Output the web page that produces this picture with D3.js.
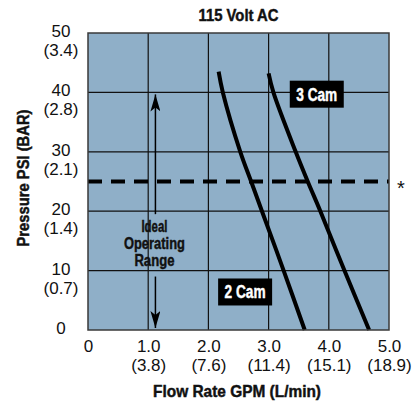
<!DOCTYPE html>
<html>
<head>
<meta charset="utf-8">
<script src="https://cdn.jsdelivr.net/npm/d3@7"></script>
<style>
  body { margin: 0; background: #fff; }
  svg { display: block; }
  .narrow { font-family: "Liberation Sans", Arial, sans-serif; font-weight: bold; stroke-width: 0.45px; }
  .tick text { font-family: "Liberation Sans", Arial, sans-serif; font-size: 17px; fill: #111; }
</style>
</head>
<body>
<div id="chart"></div>
<script>
// flow rate ticks (GPM) and metric equivalents (L/min)
const flowTicks = [0, 1, 2, 3, 4, 5];
const flowLabels = ["0", "1.0", "2.0", "3.0", "4.0", "5.0"];
const flowMetric = ["", "(3.8)", "(7.6)", "(11.4)", "(15.1)", "(18.9)"];

// pressure ticks (PSI) and metric equivalents (BAR)
const psiTicks = [0, 10, 20, 30, 40, 50];
const psiLabels = ["0", "10", "20", "30", "40", "50"];
const psiMetric = ["", "(0.7)", "(1.4)", "(2.1)", "(2.8)", "(3.4)"];

// pump curves: pressure (PSI) vs flow (GPM)
const twoCamPsi = [0, 10, 20, 25, 30, 40, 43.5];
const twoCamGpm = [3.60, 3.25, 2.89, 2.71, 2.53, 2.24, 2.17];
const threeCamPsi = [0, 10, 20, 25, 30, 40, 43.2];
const threeCamGpm = [4.67, 4.26, 3.86, 3.65, 3.45, 3.08, 3.00];

const cutoffPsi = 25;          // dashed line
const idealRange = [0, 40];    // arrow range
const idealFlow = 1.12;
const idealGapPsi = [9, 19.5];

const W = 414, H = 402;
const margin = {top: 33, right: 25, bottom: 72, left: 88};

const x = d3.scaleLinear().domain([0, 5]).range([margin.left, W - margin.right]);
const y = d3.scaleLinear().domain([0, 50]).range([H - margin.bottom, margin.top]);

const svg = d3.select("#chart").append("svg")
    .attr("width", W)
    .attr("height", H);

// condensed look: squeeze bold text to the width it has in the picture
const fitWidth = (sel, w) => sel.attr("textLength", w).attr("lengthAdjust", "spacingAndGlyphs");

const defs = svg.append("defs");
["up", "down"].forEach(id => {
    defs.append("marker")
        .attr("id", "arrow-" + id)
        .attr("viewBox", "0 0 10 18")
        .attr("refX", 5)
        .attr("refY", 0)
        .attr("markerWidth", 10)
        .attr("markerHeight", 18)
        .attr("markerUnits", "userSpaceOnUse")
        .attr("orient", id === "up" ? 0 : 180)
        .append("path")
        .attr("d", "M5,0 L10,17 L5,13 L0,17 Z")
        .attr("fill", "#000");
});

// plot background
svg.append("rect")
    .attr("x", x(0))
    .attr("y", y(50))
    .attr("width", x(5) - x(0))
    .attr("height", y(0) - y(50))
    .attr("fill", "#8fafc8");

// grid
svg.append("g")
    .selectAll("line")
    .data(flowTicks.slice(1, -1))
    .join("line")
    .attr("x1", d => x(d)).attr("x2", d => x(d))
    .attr("y1", y(0)).attr("y2", y(50))
    .attr("stroke", "#111")
    .attr("stroke-width", 1.2);

svg.append("g")
    .selectAll("line")
    .data(psiTicks.slice(1, -1))
    .join("line")
    .attr("x1", x(0)).attr("x2", x(5))
    .attr("y1", d => y(d)).attr("y2", d => y(d))
    .attr("stroke", "#111")
    .attr("stroke-width", 1.2);

// ideal operating range arrows
svg.append("line")
    .attr("x1", x(idealFlow)).attr("x2", x(idealFlow))
    .attr("y1", y(idealGapPsi[1])).attr("y2", y(idealRange[1]) + 2)
    .attr("stroke", "#000").attr("stroke-width", 1.5)
    .attr("marker-end", "url(#arrow-up)");
svg.append("line")
    .attr("x1", x(idealFlow)).attr("x2", x(idealFlow))
    .attr("y1", y(idealGapPsi[0])).attr("y2", y(idealRange[0]) - 2)
    .attr("stroke", "#000").attr("stroke-width", 1.5)
    .attr("marker-end", "url(#arrow-down)");

const idealLines = ["Ideal", "Operating", "Range"];
const idealWidths = [26, 61, 40];
idealLines.forEach((t, i) => {
    svg.append("text")
        .attr("class", "narrow")
        .attr("x", x(idealFlow) - 1)
        .attr("y", 231.5 + i * 17.3)
        .attr("text-anchor", "middle")
        .attr("font-size", 16.5)
        .attr("fill", "#111")
        .attr("stroke", "#111")
        .text(t)
        .call(fitWidth, idealWidths[i]);
});

// cutoff dashed line
svg.append("line")
    .attr("x1", x(0)).attr("x2", x(5))
    .attr("y1", y(cutoffPsi)).attr("y2", y(cutoffPsi))
    .attr("stroke", "#000")
    .attr("stroke-width", 4)
    .attr("stroke-dasharray", "14,9");

svg.append("text")
    .attr("x", x(5) + 12)
    .attr("y", y(cutoffPsi) + 13)
    .attr("text-anchor", "middle")
    .attr("font-family", "Liberation Sans, Arial, sans-serif")
    .attr("font-size", 20)
    .attr("fill", "#111")
    .text("*");

// curves
const curve = d3.line()
    .x(d => x(d[0]))
    .y(d => y(d[1]))
    .curve(d3.curveCatmullRom);

[[twoCamGpm, twoCamPsi], [threeCamGpm, threeCamPsi]].forEach(([gpm, psi]) => {
    svg.append("path")
        .datum(gpm.map((g, i) => [g, psi[i]]))
        .attr("fill", "none")
        .attr("stroke", "#000")
        .attr("stroke-width", 4)
        .attr("d", curve);
});

// plot border
svg.append("rect")
    .attr("x", x(0))
    .attr("y", y(50))
    .attr("width", x(5) - x(0))
    .attr("height", y(0) - y(50))
    .attr("fill", "none")
    .attr("stroke", "#3a3a3a")
    .attr("stroke-width", 1.5);

// curve labels
const camLabel = (text, cx, cy) => {
    const g = svg.append("g");
    g.append("rect")
        .attr("x", cx - 27).attr("y", cy - 13.5)
        .attr("width", 54).attr("height", 27)
        .attr("fill", "#000");
    g.append("text")
        .attr("class", "narrow")
        .attr("x", cx).attr("y", cy + 6.5)
        .attr("text-anchor", "middle")
        .attr("font-size", 17.5)
        .attr("fill", "#fff")
        .attr("stroke", "#fff")
        .text(text)
        .call(fitWidth, 41);
};
camLabel("3 Cam", x(3.8), y(39.7));
camLabel("2 Cam", x(2.61), y(6.4));

// two-line tick label: value on top, metric value beneath
const twoLine = (sel, labels, metric, xPos, yTop, gap) => {
    sel.each(function(d, i) {
        const parent = d3.select(this.parentNode);
        const top = typeof yTop === "function" ? yTop(d) : yTop;
        d3.select(this)
            .attr("dy", null)
            .attr("x", xPos)
            .attr("y", top)
            .attr("text-anchor", "middle")
            .text(labels[i]);
        if (metric[i]) {
            parent.append("text")
                .attr("x", xPos)
                .attr("y", top + gap)
                .attr("fill", "#111")
                .attr("text-anchor", "middle")
                .text(metric[i]);
        }
    });
};

// axes
const xAxis = svg.append("g")
    .attr("transform", `translate(0,${y(0)})`)
    .call(d3.axisBottom(x).tickValues(flowTicks).tickSize(0).tickPadding(0));
xAxis.select(".domain").remove();
xAxis.selectAll(".tick text").call(twoLine, flowLabels, flowMetric, 0, 22, 19);

const yAxis = svg.append("g")
    .attr("transform", `translate(${x(0)},0)`)
    .call(d3.axisLeft(y).tickValues(psiTicks).tickSize(0).tickPadding(0));
yAxis.select(".domain").remove();
yAxis.selectAll(".tick text").call(twoLine, psiLabels, psiMetric, -27, d => d === 0 ? 3 : 3.5, 19);

// titles
svg.append("text")
    .attr("class", "narrow")
    .attr("x", (x(0) + x(5)) / 2)
    .attr("y", 21)
    .attr("text-anchor", "middle")
    .attr("font-size", 16.5)
    .attr("fill", "#111")
    .attr("stroke", "#111")
    .text("115 Volt AC")
    .call(fitWidth, 80);

svg.append("text")
    .attr("class", "narrow")
    .attr("x", 237)
    .attr("y", 397)
    .attr("text-anchor", "middle")
    .attr("font-size", 16.5)
    .attr("fill", "#111")
    .attr("stroke", "#111")
    .text("Flow Rate GPM (L/min)")
    .call(fitWidth, 168);

svg.append("text")
    .attr("class", "narrow")
    .attr("transform", "translate(29,178) rotate(-90)")
    .attr("text-anchor", "middle")
    .attr("font-size", 16.5)
    .attr("fill", "#111")
    .attr("stroke", "#111")
    .text("Pressure PSI (BAR)")
    .call(fitWidth, 137);
</script>
</body>
</html>
